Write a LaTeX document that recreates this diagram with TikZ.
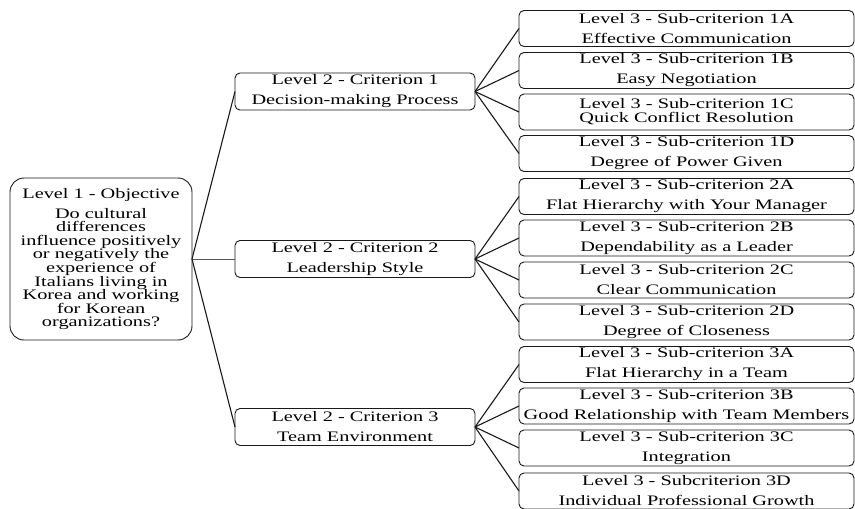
\documentclass[tikz,border=0pt]{standalone}
\usepackage{fontspec}
\setmainfont{Liberation Serif}[FakeStretch=1.4]
\begin{document}
\begin{tikzpicture}[x=1pt,y=-1pt,
  box/.style={draw=black!90, line width=0.9pt, rounded corners=5pt, inner sep=0pt, outer sep=0pt, align=center, text=black, font=\fontsize{14.5}{20}\selectfont},
  lthree/.style={box, minimum width=335pt, minimum height=36pt},
  ltwo/.style={box, minimum width=240pt, minimum height=37pt},
  lone/.style={box, rounded corners=14pt, minimum width=182pt, minimum height=162pt, font=\fontsize{14.5}{13.6}\selectfont},
  link/.style={line width=1.1pt, draw=black!90},
  flatlink/.style={line width=0.7pt, draw=black!65}]
\useasboundingbox (0,0) rectangle (855,509);
\node[lone] (obj) at (101,259) {Level 1 - Objective\\[6.4pt]Do cultural\\differences\\influence positively\\or negatively the\\experience of\\Italians living in\\Korea and working\\for Korean\\organizations?};
\node[ltwo] (c1) at (355,91.5) {Level 2 - Criterion 1\\Decision-making Process};
\node[ltwo] (c2) at (355,259) {Level 2 - Criterion 2\\Leadership Style};
\node[ltwo] (c3) at (355,427) {Level 2 - Criterion 3\\Team Environment};
\node[lthree] (s1a) at (686.5,28.5) {Level 3 - Sub-criterion 1A\\Effective Communication};
\node[lthree] (s1b) at (686.5,70.5) {Level 3 - Sub-criterion 1B\\Easy Negotiation};
\node[lthree] (s1c) at (686.5,112) {Level 3 - Sub-criterion 1C\\[-6pt]Quick Conflict Resolution};
\node[lthree] (s1d) at (686.5,153.5) {Level 3 - Sub-criterion 1D\\Degree of Power Given};
\node[lthree] (s2a) at (686.5,196.5) {Level 3 - Sub-criterion 2A\\Flat Hierarchy with Your Manager};
\node[lthree] (s2b) at (686.5,238) {Level 3 - Sub-criterion 2B\\Dependability as a Leader};
\node[lthree] (s2c) at (686.5,280) {Level 3 - Sub-criterion 2C\\Clear Communication};
\node[lthree] (s2d) at (686.5,322) {Level 3 - Sub-criterion 2D\\Degree of Closeness};
\node[lthree] (s3a) at (686.5,364.5) {Level 3 - Sub-criterion 3A\\Flat Hierarchy in a Team};
\node[lthree] (s3b) at (686.5,406) {Level 3 - Sub-criterion 3B\\Good Relationship with Team Members};
\node[lthree] (s3c) at (686.5,448) {Level 3 - Sub-criterion 3C\\Integration};
\node[lthree] (s3d) at (686.5,491) {Level 3 - Subcriterion 3D\\Individual Professional Growth};
\draw[link] (obj.east) -- (c1.west);
\draw[flatlink] (obj.east) -- (c2.west);
\draw[link] (obj.east) -- (c3.west);
\foreach \s in {s1a,s1b,s1c,s1d} \draw[link] (c1.east) -- (\s.west);
\foreach \s in {s2a,s2b,s2c,s2d} \draw[link] (c2.east) -- (\s.west);
\foreach \s in {s3a,s3b,s3c,s3d} \draw[link] (c3.east) -- (\s.west);
\end{tikzpicture}
\end{document}
